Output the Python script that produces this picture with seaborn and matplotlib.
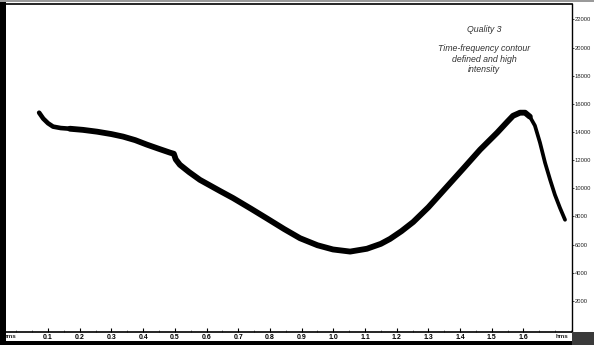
import matplotlib
matplotlib.use("Agg")
import matplotlib.pyplot as plt
import seaborn as sns
import pandas as pd
from matplotlib.patches import Rectangle
from matplotlib.ticker import MultipleLocator

# Time (s) and dominant frequency (Hz) of the whistle contour
time_s = [0.072, 0.085, 0.100, 0.116, 0.140, 0.169, 0.210, 0.255, 0.300, 0.337,
          0.375, 0.412, 0.450, 0.485, 0.497, 0.503, 0.516, 0.545, 0.579, 0.643,
          0.684, 0.740, 0.791, 0.845, 0.895, 0.950, 0.999, 1.053, 1.106, 1.150,
          1.179, 1.215, 1.252, 1.300, 1.356, 1.410, 1.463, 1.517, 1.550, 1.567,
          1.589, 1.605, 1.620, 1.636, 1.652, 1.668, 1.684, 1.699, 1.715, 1.731]
freq_hz = [15370, 14950, 14620, 14380, 14280, 14230, 14150, 14020, 13850, 13670,
           13420, 13100, 12800, 12530, 12450, 12050, 11670, 11150, 10600, 9800,
           9300, 8550, 7850, 7100, 6450, 5950, 5650, 5500, 5700, 6050,
           6400, 6950, 7600, 8650, 10050, 11400, 12740, 13950, 14750, 15150,
           15370, 15370, 15090, 14450, 13240, 11810, 10600, 9540, 8610, 7760]

x_major = [0.1, 0.2, 0.3, 0.4, 0.5, 0.6, 0.7, 0.8, 0.9, 1.0, 1.1, 1.2, 1.3, 1.4, 1.5, 1.6]
x_labels = ["0.1", "0.2", "0.3", "0.4", "0.5", "0.6", "0.7", "0.8", "0.9", "1.0",
            "1.1", "1.2", "1.3", "1.4", "1.5", "1.6"]
y_ticks = [2000, 4000, 6000, 8000, 10000, 12000, 14000, 16000, 18000, 20000, 22000]

df = pd.DataFrame({"time": time_s, "freq": freq_hz})

sns.set_style("white")
plt.rcParams["font.family"] = ["Liberation Sans", "DejaVu Sans"]

fig = plt.figure(figsize=(5.94, 3.45), dpi=100)
W, H = 594, 345
ax = fig.add_axes([6 / W, (H - 331.5) / H, (572 - 6) / W, (331.5 - 3.5) / H])

# the trace is thinner at its onset and along the final downsweep
segments = [(df[df.time <= 0.17], 3.3),
            (df[(df.time >= 0.169) & (df.time <= 1.62)], 4.2),
            (df[df.time >= 1.605], 2.7)]
for part, lw in segments:
    sns.lineplot(data=part, x="time", y="freq", ax=ax, color="black", linewidth=lw,
                 solid_capstyle="round", solid_joinstyle="round", sort=False)

ax.set_xlim(-0.0325, 1.753)
ax.set_ylim(-180, 23130)
ax.set_xlabel("")
ax.set_ylabel("")

# bottom time axis
ax.set_xticks(x_major)
ax.set_xticklabels(x_labels, fontsize=5, fontweight="bold")
ax.xaxis.set_minor_locator(MultipleLocator(0.05))
ax.tick_params(axis="x", which="major", direction="in", length=3, width=0.8,
               pad=1.5, bottom=True, colors="black")
ax.tick_params(axis="x", which="minor", direction="in", length=1.5, width=0.6,
               bottom=True, color="#666666")

# frequency axis on the right
ax.yaxis.tick_right()
ax.set_yticks(y_ticks)
ax.set_yticklabels([str(v) for v in y_ticks], fontsize=4.2)
ax.tick_params(axis="y", which="major", direction="out", length=1.5, width=0.6,
               pad=0.6, right=True, left=False, labelcolor="#222222")

ax.spines["left"].set_visible(False)
ax.spines["bottom"].set_linewidth(1.2)
ax.spines["right"].set_linewidth(1.0)
ax.spines["top"].set_linewidth(1.2)
for s in ax.spines.values():
    s.set_color("black")

# unit labels at both ends of the time axis
ax.text(10 / W, (H - 336) / H, "hms", transform=fig.transFigure, fontsize=4.5,
        fontweight="bold", ha="center", va="center")
ax.text(562 / W, (H - 336) / H, "hms", transform=fig.transFigure, fontsize=4.5,
        fontweight="bold", ha="center", va="center")

# annotation
ax.text(484 / W, (H - 30) / H, "Quality 3", transform=fig.transFigure,
        fontsize=6.3, style="italic", ha="center", va="center", color="#333333")
ax.text(484 / W, (H - 59) / H, "Time-frequency contour\ndefined and high\nintensity",
        transform=fig.transFigure, fontsize=6.3, style="italic", ha="center",
        va="center", color="#333333", linespacing=1.2)

# frame bands around the panel
fig.patches.append(Rectangle((0, 0), 5.5 / W, 1, transform=fig.transFigure,
                             facecolor="black", edgecolor="none", zorder=5))
fig.patches.append(Rectangle((0, 0), 1, 4 / H, transform=fig.transFigure,
                             facecolor="black", edgecolor="none", zorder=5))
fig.patches.append(Rectangle((572 / W, 0), 22 / W, 13.5 / H, transform=fig.transFigure,
                             facecolor="#3a3a3a", edgecolor="none", zorder=5))
fig.patches.append(Rectangle((0, (H - 2) / H), 1, 2 / H, transform=fig.transFigure,
                             facecolor="#9a9a9a", edgecolor="none", zorder=5))

fig.savefig("out.png", dpi=100, facecolor="white")
